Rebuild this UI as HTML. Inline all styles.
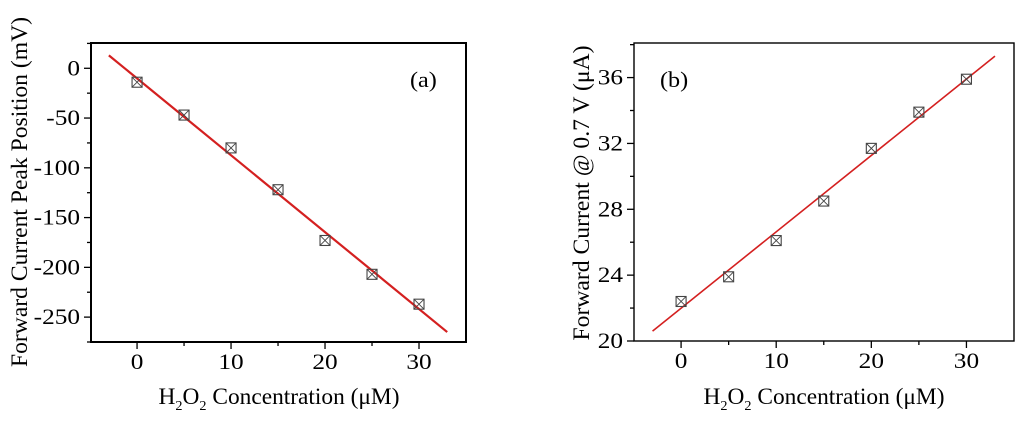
<!DOCTYPE html>
<html><head><meta charset="utf-8"><style>
body{margin:0;background:#fff;}
svg{display:block;font-family:"Liberation Serif",serif;}
</style></head><body>
<svg id="s" width="1024" height="426" viewBox="0 0 1024 426"></svg>
<script>
const conc = [0,5,10,15,20,25,30];
const peakA = [-14,-47,-80,-122,-173,-207,-237];
const currentB = [22.4,23.9,26.1,28.5,31.7,33.9,35.9];
const xTicks = [0,10,20,30];
const yTicksA = [0,-50,-100,-150,-200,-250];
const yTicksB = [20,24,28,32,36];
const fitA = [[-3,13],[33,-265]];
const fitB = [[-3,20.6],[33,37.3]];

const NS="http://www.w3.org/2000/svg", svg=document.getElementById('s');
function el(t,a,p){const e=document.createElementNS(NS,t);for(const k in a)e.setAttribute(k,a[k]);(p||svg).appendChild(e);return e;}

function panel(cfg){
  const g=el('g',{});
  
  
  const X=v=>cfg.x0+(v-cfg.xmin)/(cfg.xmax-cfg.xmin)*(cfg.x1-cfg.x0);
  const Y=v=>cfg.y1-(v-cfg.ymin)/(cfg.ymax-cfg.ymin)*(cfg.y1-cfg.y0);
  const box=el('rect',{x:cfg.x0,y:cfg.y0,width:cfg.x1-cfg.x0,height:cfg.y1-cfg.y0,fill:'none',stroke:'#000','stroke-width':cfg.sw},g);
  
  for(let v=0;v<=30;v+=5){const big=v%10===0;el('line',{x1:X(v),x2:X(v),y1:cfg.y1,y2:cfg.y1+(big?7:4),stroke:'#000','stroke-width':1.3},g);}
  xTicks.forEach(v=>{const t=el('text',{x:0,y:0,'text-anchor':'middle','font-size':22,transform:`translate(${X(v)},${cfg.y1+27}) scale(1.15,1)`},g);t.textContent=v;
    });
  for(let v=cfg.ymin;v<=cfg.ymax;v+=cfg.minor){const yy=Y(v);if(yy<cfg.y0-1||yy>cfg.y1+1)continue;
    const big=cfg.yt.some(t=>Math.abs(t-v)<1e-6);el('line',{x1:cfg.x0,x2:cfg.x0-(big?7:4),y1:yy,y2:yy,stroke:'#000','stroke-width':1.3},g);}
  cfg.yt.forEach(v=>{const t=el('text',{x:0,y:0,'text-anchor':'end','font-size':22,transform:`translate(${cfg.x0-11},${Y(v)+7}) scale(1.15,1)`},g);t.textContent=v;
    });
  const fit=el('line',{x1:X(cfg.fit[0][0]),y1:Y(cfg.fit[0][1]),x2:X(cfg.fit[1][0]),y2:Y(cfg.fit[1][1]),stroke:'#d42020','stroke-width':cfg.lw},g);
  
  conc.forEach((c,i)=>{const cx=X(c),cy=Y(cfg.data[i]),r=5;
    const m=el('g',{},g);
    el('rect',{x:cx-r,y:cy-r,width:2*r,height:2*r,fill:'none',stroke:'#444','stroke-width':1.1},m);
    el('path',{d:`M${cx-r} ${cy-r}L${cx+r} ${cy+r}M${cx+r} ${cy-r}L${cx-r} ${cy+r}`,stroke:'#444','stroke-width':0.9},m);});
  const lab=el('text',{x:0,y:0,'font-size':22,transform:`translate(${cfg.lx},${cfg.ly}) scale(1.1,1)`},g);lab.textContent=cfg.label;
  
  const xt=el('text',{x:cfg.xtc,y:404,'text-anchor':'middle','font-size':23,textLength:241,lengthAdjust:'spacingAndGlyphs'},g);
  xt.innerHTML='H<tspan font-size="14" dy="6">2</tspan><tspan dy="-6">O</tspan><tspan font-size="14" dy="6">2</tspan><tspan dy="-6"> Concentration (μM)</tspan>';
  
  const yt=el('text',{x:0,y:0,'text-anchor':'middle','font-size':23,textLength:cfg.ytl,lengthAdjust:'spacingAndGlyphs',transform:`translate(${cfg.ytx},${cfg.yty}) rotate(-90)`},g);
  yt.textContent=cfg.ytitle;
}
panel({name:'chart-a',x0:91,x1:466,y0:43,y1:342,xmin:-4.9,xmax:35,ymin:-275,ymax:25.4,minor:25,yt:yTicksA,data:peakA,fit:fitA,sw:2,lw:2.2,
  label:'(a)',lx:410,ly:87,ytitle:'Forward Current Peak Position (mV)',ytx:27,yty:192,ytl:350,xtc:279});
panel({name:'chart-b',x0:634,x1:1014,y0:43,y1:341,xmin:-4.95,xmax:35,ymin:20,ymax:38.1,minor:2,yt:yTicksB,data:currentB,fit:fitB,sw:1.4,lw:1.6,
  label:'(b)',lx:660,ly:87,ytitle:'Forward Current @ 0.7 V (μA)',ytx:589,yty:193,ytl:295,xtc:824});
</script>
</body></html>
